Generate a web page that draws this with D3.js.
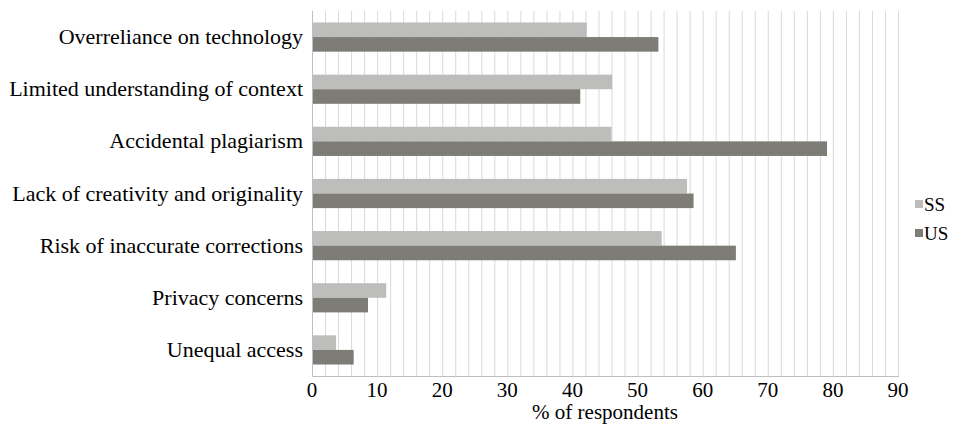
<!DOCTYPE html>
<html><head><meta charset="utf-8">
<script src="https://cdn.jsdelivr.net/npm/d3@7/dist/d3.min.js"></script>
</head><body><svg id="c" width="961" height="424" style="position:absolute;left:0;top:0"></svg>
<script>
const categories = ["Overreliance on technology","Limited understanding of context","Accidental plagiarism","Lack of creativity and originality","Risk of inaccurate corrections","Privacy concerns","Unequal access"];
const seriesNames = ["SS","US"];
const ssValues = [42.2,46.1,46.0,57.6,53.7,11.4,3.7];
const usValues = [53.2,41.2,79.1,58.6,65.1,8.6,6.4];
const xTicks = [0,10,20,30,40,50,60,70,80,90];
const colors = ["#bdbdbc","#7e7c77"];

const svg = d3.select("#c");
const L = 312, R = 898, T = 11, B = 376;
const x = d3.scaleLinear().domain([0,90]).range([L,R]);
const y = d3.scaleBand().domain(categories).range([T,B]).paddingInner(0.44).paddingOuter(0.22);
const ys = d3.scaleBand().domain(seriesNames).range([0,y.bandwidth()]);
const txt = (sel, size) => sel.style("font-family", '"Liberation Serif", "Times New Roman", serif').style("font-size", size + "px").style("fill", "#000");

// gridlines
svg.append("g").selectAll("line").data(d3.range(2,91,2)).join("line")
  .attr("x1",d=>x(d)+0.5).attr("x2",d=>x(d)+0.5).attr("y1",T).attr("y2",B)
  .attr("stroke","#d9d9d9").attr("stroke-width",1);

// bars
const data = categories.map((c,i)=>({c, vals:[ssValues[i],usValues[i]]}));
const g = svg.append("g");
data.forEach(d=>{
  g.selectAll(null).data(seriesNames.map((s,j)=>({s,v:d.vals[j],j}))).join("rect")
    .attr("x",x(0)).attr("y",e=>y(d.c)+ys(e.s))
    .attr("width",e=>x(e.v)-x(0)).attr("height",ys.bandwidth())
    .attr("fill",e=>colors[e.j]);
});

// axes lines
svg.append("line").attr("x1",L+0.5).attr("x2",L+0.5).attr("y1",T).attr("y2",B).attr("stroke","#bfbfbf");
svg.append("line").attr("x1",L).attr("x2",R+1).attr("y1",B+0.5).attr("y2",B+0.5).attr("stroke","#bfbfbf");

// tick labels
xTicks.forEach(t=>{
  txt(svg.append("text").attr("x",x(t)).attr("y",B+21).attr("text-anchor","middle"),21).text(d3.format("d")(t));
});

// category labels
categories.forEach(c=>{
  txt(svg.append("text").attr("x",303).attr("y",y(c)+y.bandwidth()/2+7).attr("text-anchor","end"),22).text(c);
});

// axis title
txt(svg.append("text").attr("x",(L+R)/2).attr("y",419).attr("text-anchor","middle"),21).text("% of respondents");

// legend
seriesNames.forEach((s,i)=>{
  const yy = 205 + i*29;
  svg.append("rect").attr("x",915).attr("y",yy-5).attr("width",8).attr("height",8).attr("fill",colors[i]);
  txt(svg.append("text").attr("x",924).attr("y",yy+6),19).text(s);
});
</script></body></html>
